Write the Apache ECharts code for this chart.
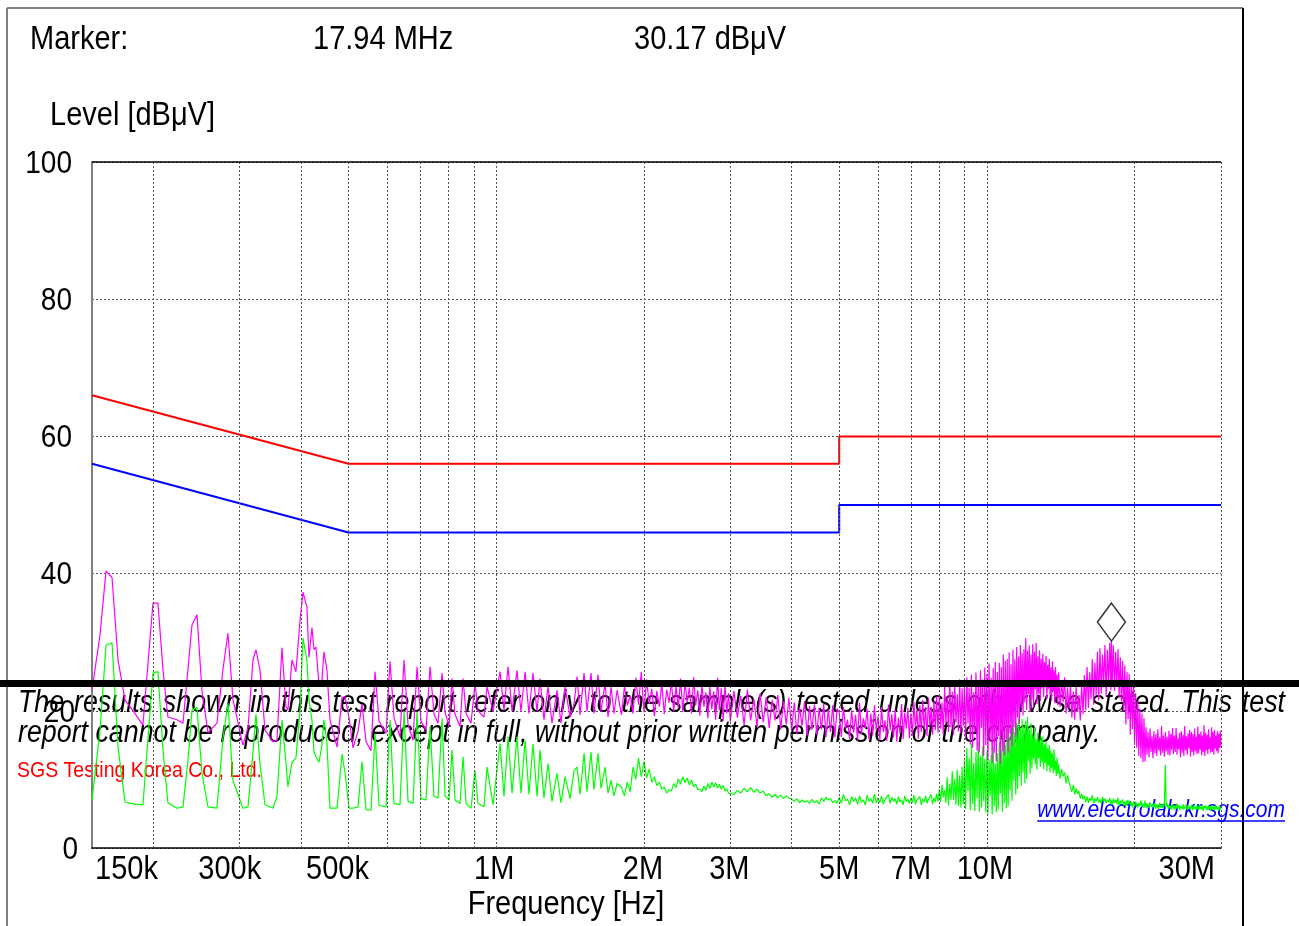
<!DOCTYPE html>
<html>
<head>
<meta charset="utf-8">
<script src="https://cdn.jsdelivr.net/npm/echarts@6/dist/echarts.min.js"></script>
<style>
  html, body { margin: 0; padding: 0; background: #fff; }
  #chart { width: 1299px; height: 926px; }
</style>
</head>
<body>
<div id="chart"></div>
<script>
// Conducted emission scan, 150 kHz - 30 MHz (frequencies in MHz, levels in dBuV)
const markerFreqMHz = 17.94;
const markerLevel = 30.17;

const qpLimitFreq  = [0.15, 0.5, 5, 5, 30];
const qpLimitLevel = [66, 56, 56, 60, 60];
const avLimitFreq  = [0.15, 0.5, 5, 5, 30];
const avLimitLevel = [56, 46, 46, 50, 50];

// 150 kHz - 1.8 MHz: individual harmonics
const freqLow = [
  0.1500, 0.1557, 0.1602, 0.1648, 0.1695, 0.1751, 0.1827, 0.1905, 0.1951, 0.1997,
  0.2044, 0.2093, 0.2142, 0.2235, 0.2299, 0.2353, 0.2398, 0.2455, 0.2513, 0.2585,
  0.2696, 0.2773, 0.2839, 0.2907, 0.3046, 0.3119, 0.3193, 0.3238, 0.3299, 0.3378,
  0.3507, 0.3573, 0.3658, 0.3727, 0.3762, 0.3834, 0.3906, 0.3980, 0.4037, 0.4113,
  0.4152, 0.4211, 0.4251, 0.4291, 0.4352, 0.4413, 0.4455, 0.4518, 0.4582, 0.4737,
  0.4850, 0.4918, 0.5012, 0.5106, 0.5227, 0.5326, 0.5427, 0.5556, 0.5662, 0.5769,
  0.5961, 0.6074, 0.6189, 0.6366, 0.6487, 0.6610, 0.6767, 0.6895, 0.7026, 0.7193,
  0.7329, 0.7468, 0.7610, 0.7754, 0.7864, 0.8013, 0.8126, 0.8241, 0.8437, 0.8556,
  0.8678, 0.8884, 0.9052, 0.9180, 0.9443, 0.9577, 0.9850, 1.018, 1.037, 1.057,
  1.077, 1.102, 1.123, 1.145, 1.166, 1.188, 1.211, 1.228, 1.251, 1.275,
  1.299, 1.330, 1.355, 1.381, 1.414, 1.441, 1.461, 1.482, 1.510, 1.531,
  1.560, 1.582, 1.612, 1.635, 1.666, 1.690, 1.714, 1.738, 1.763
];
const peakLow = [
  23.0, 31.0, 40.4, 39.4, 27.4, 21.6, 19.8, 17.9, 27.0, 35.7,
  35.7, 26.0, 19.1, 18.7, 18.2, 26.0, 32.5, 34.0, 23.0, 16.8,
  18.2, 26.0, 31.3, 21.6, 15.0, 17.5, 27.4, 28.9, 26.0, 17.2,
  15.5, 15.7, 29.2, 20.6, 20.1, 27.4, 25.7, 33.0, 37.3, 35.1,
  27.8, 32.1, 28.9, 29.3, 23.8, 24.5, 28.6, 26.0, 18.7, 14.7,
  22.0, 22.0, 19.0, 14.6, 17.0, 21.0, 15.5, 14.2, 25.7, 18.5,
  16.7, 27.2, 19.0, 16.2, 27.4, 18.0, 15.7, 26.4, 18.5, 17.2,
  26.4, 19.5, 18.2, 25.5, 19.8, 17.7, 24.7, 19.5, 17.7, 24.7,
  19.6, 18.2, 24.0, 20.0, 19.1, 23.5, 19.9, 25.7, 20.1, 26.4,
  19.9, 25.9, 19.9, 25.7, 19.6, 25.5, 19.9, 24.7, 18.7, 23.5,
  18.2, 23.0, 18.2, 23.5, 19.1, 21.0, 25.0, 19.4, 25.5, 19.9,
  25.5, 19.6, 25.3, 19.9, 24.0, 19.1, 23.5, 19.6, 23.0
];
const avgLow = [
  7.0, 17.0, 29.6, 29.9, 14.7, 6.7, 6.4, 6.3, 16.0, 25.5,
  25.7, 14.3, 6.6, 5.8, 6.0, 12.7, 20.1, 20.5, 10.9, 6.0,
  5.8, 16.0, 21.1, 9.8, 5.8, 6.0, 14.0, 19.5, 12.4, 6.3,
  5.8, 7.5, 18.7, 12.5, 8.9, 12.5, 13.1, 20.0, 30.6, 27.4,
  21.6, 18.7, 14.0, 13.3, 12.5, 15.0, 18.7, 15.3, 5.8, 5.8,
  13.7, 11.0, 5.8, 5.8, 6.0, 12.6, 5.6, 5.5, 16.7, 6.2,
  6.0, 18.7, 6.5, 6.3, 19.9, 6.8, 6.5, 19.9, 7.2, 7.0,
  17.7, 7.5, 7.3, 18.9, 7.6, 7.0, 14.3, 7.0, 6.5, 13.3,
  6.5, 5.8, 11.3, 6.5, 6.0, 11.8, 6.3, 15.2, 7.5, 16.2,
  8.0, 16.2, 8.0, 15.7, 7.8, 15.2, 7.5, 14.3, 7.3, 12.3,
  6.8, 10.9, 6.6, 10.4, 7.2, 11.3, 11.8, 7.8, 13.8, 8.2,
  14.0, 8.5, 13.8, 8.7, 11.8, 8.0, 9.9, 7.6, 9.4
];

// 1.8 MHz - 5 MHz
const freqMid = [
  1.800, 1.825, 1.850, 1.875, 1.900, 1.925, 1.950, 1.975,
  2.000, 2.025, 2.050, 2.075, 2.100, 2.125, 2.150, 2.175,
  2.200, 2.225, 2.250, 2.275, 2.300, 2.325, 2.350, 2.375,
  2.400, 2.425, 2.450, 2.475, 2.500, 2.525, 2.550, 2.575,
  2.600, 2.625, 2.650, 2.675, 2.700, 2.725, 2.750, 2.775,
  2.800, 2.825, 2.850, 2.875, 2.900, 2.925, 2.950, 2.975,
  3.000,
  3.05, 3.10, 3.15, 3.20, 3.25, 3.30, 3.35, 3.40, 3.45,
  3.50, 3.55, 3.60, 3.65, 3.70, 3.75, 3.80, 3.85, 3.90, 3.95,
  4.00, 4.05, 4.10, 4.15, 4.20, 4.25, 4.30, 4.35, 4.40, 4.45,
  4.50, 4.55, 4.60, 4.65, 4.70, 4.75, 4.80, 4.85, 4.90, 4.95
];
const peakMid = [
  19.4, 23.6, 20.8, 22.2, 19.6, 24.8, 20.9, 25.7,
  19.8, 24.6, 21.0, 23.2, 19.2, 22.9, 20.6, 24.0,
  19.5, 23.1, 21.2, 24.3, 19.9, 23.6, 20.4, 24.7,
  19.8, 24.2, 21.3, 23.4, 19.6, 24.9, 20.8, 23.0,
  19.3, 23.8, 20.6, 22.7, 18.9, 23.5, 20.2, 22.8,
  18.7, 24.8, 20.1, 23.3, 18.5, 23.9, 19.6, 22.6,
  18.4,
  22.9, 19.0, 22.2, 17.9, 23.1, 18.6, 21.7, 17.7, 22.5,
  18.3, 22.0, 17.5, 21.6, 18.6, 22.3, 17.3, 21.4, 18.0, 21.9,
  17.1, 21.2, 16.6, 20.5, 17.8, 21.4, 16.4, 20.7, 17.2, 20.9,
  16.5, 20.4, 17.3, 21.0, 16.2, 20.2, 16.9, 20.8, 16.1, 20.3
];
const avgMid = [
  8.9, 7.6, 9.6, 8.2, 11.8, 10.0, 13.1, 10.4,
  12.6, 10.2, 11.5, 9.6, 10.4, 9.1, 9.6, 8.6,
  8.9, 8.0, 8.5, 8.3, 9.4, 8.8, 10.1, 9.3,
  10.4, 9.5, 10.2, 9.2, 9.9, 8.9, 9.3, 8.5,
  8.6, 8.2, 9.0, 8.4, 9.4, 8.7, 9.6, 8.9,
  9.5, 8.7, 9.3, 8.6, 9.1, 8.3, 8.6, 8.0,
  8.1,
  7.8, 8.4, 8.0, 8.7, 8.2, 8.8, 8.1, 8.6, 8.0,
  8.3, 7.6, 7.9, 7.4, 7.8, 7.3, 7.7, 7.2, 7.6, 7.3,
  7.1, 6.8, 7.2, 6.6, 7.0, 6.7, 6.9, 6.5, 7.1, 6.6,
  6.9, 6.4, 7.3, 6.8, 7.4, 7.0, 7.2, 6.6, 6.9, 6.5
];

// 5 MHz - 30 MHz
const freqHigh = [
  5.00, 5.05, 5.10, 5.15, 5.20, 5.25, 5.30, 5.35, 5.40, 5.45,
  5.50, 5.55, 5.60, 5.65, 5.70, 5.75, 5.80, 5.85, 5.90, 5.95,
  6.00, 6.05, 6.10, 6.15, 6.20, 6.25, 6.30, 6.35, 6.40, 6.45,
  6.50, 6.55, 6.60, 6.65, 6.70, 6.75, 6.80, 6.85, 6.90, 6.95,
  7.00, 7.05, 7.10, 7.15, 7.20, 7.25, 7.30, 7.35, 7.40, 7.45,
  7.50, 7.55, 7.60, 7.65, 7.70, 7.75, 7.80, 7.85, 7.90, 7.95,
  8.00, 8.05, 8.10, 8.15, 8.20, 8.25, 8.30, 8.35, 8.40, 8.45,
  8.50, 8.55, 8.60, 8.65, 8.70, 8.75, 8.80, 8.85, 8.90, 8.95,
  9.00, 9.05, 9.10, 9.15, 9.20, 9.25, 9.30, 9.35, 9.40, 9.45,
  9.50, 9.55, 9.60, 9.65, 9.70, 9.75, 9.80, 9.85, 9.90, 9.95,
  10.00, 10.05, 10.10, 10.15, 10.20, 10.25, 10.30, 10.35, 10.40, 10.45,
  10.50, 10.55, 10.60, 10.65, 10.70, 10.75, 10.80, 10.85, 10.90, 10.95,
  11.00, 11.05, 11.10, 11.15, 11.20, 11.25, 11.30, 11.35, 11.40, 11.45,
  11.50, 11.55, 11.60, 11.65, 11.70, 11.75, 11.80, 11.85, 11.90, 11.95,
  12.00, 12.05, 12.10, 12.15, 12.20, 12.25, 12.30, 12.35, 12.40, 12.45,
  12.50, 12.55, 12.60, 12.65, 12.70, 12.75, 12.80, 12.85, 12.90, 12.95,
  13.00, 13.05, 13.10, 13.15, 13.20, 13.25, 13.30, 13.35, 13.40, 13.45,
  13.50, 13.55, 13.60, 13.65, 13.70, 13.75, 13.80, 13.85, 13.90, 13.95,
  14.0, 14.1, 14.2, 14.3, 14.4, 14.5, 14.6, 14.7, 14.8, 14.9,
  15.0, 15.1, 15.2, 15.3, 15.4, 15.5, 15.6, 15.7, 15.8, 15.9,
  16.0, 16.1, 16.2, 16.3, 16.4, 16.5, 16.6, 16.7, 16.8, 16.9,
  17.0, 17.1, 17.2, 17.3, 17.4, 17.5, 17.6, 17.7, 17.8, 17.9,
  17.94,
  18.0, 18.1, 18.2, 18.3, 18.4, 18.5, 18.6, 18.7, 18.8, 18.9,
  19.0, 19.1, 19.2, 19.3, 19.4, 19.5, 19.6, 19.7, 19.8, 19.9,
  20.0, 20.1, 20.2, 20.3, 20.4, 20.5, 20.6, 20.7, 20.8, 20.9,
  21.0, 21.1, 21.2, 21.3, 21.4, 21.5, 21.6, 21.7, 21.8, 21.9,
  22.0, 22.1, 22.2, 22.3, 22.4, 22.5, 22.6, 22.7, 22.8, 22.9,
  23.0, 23.1, 23.2, 23.3, 23.4, 23.5, 23.6, 23.7, 23.8, 23.9,
  24.0, 24.1, 24.2, 24.3, 24.4, 24.5, 24.6, 24.7, 24.8, 24.9,
  25.0, 25.1, 25.2, 25.3, 25.4, 25.5, 25.6, 25.7, 25.8, 25.9,
  26.0, 26.1, 26.2, 26.3, 26.4, 26.5, 26.6, 26.7, 26.8, 26.9,
  27.0, 27.1, 27.2, 27.3, 27.4, 27.5, 27.6, 27.7, 27.8, 27.9,
  28.0, 28.1, 28.2, 28.3, 28.4, 28.5, 28.6, 28.7, 28.8, 28.9,
  29.0, 29.1, 29.2, 29.3, 29.4, 29.5, 29.6, 29.7, 29.8, 29.9,
  30.0
];
const peakHigh = [
  19.8, 16.2, 20.6, 17.4, 18.7, 15.9, 20.1, 16.8, 19.4, 15.7,
  21.2, 16.6, 18.9, 17.5, 20.3, 15.8, 19.6, 16.4, 20.8, 17.1,
  19.2, 15.8, 20.5, 16.9, 18.6, 15.6, 20.9, 17.2, 19.5, 16.1,
  20.2, 15.5, 19.0, 16.7, 21.0, 15.9, 19.7, 17.4, 20.4, 16.0,
  19.6, 16.4, 21.3, 17.6, 20.1, 15.9, 20.8, 16.9, 21.6, 17.3,
  20.4, 16.3, 21.9, 17.7, 20.6, 16.5, 21.4, 17.2, 22.1, 16.8,
  22.3, 17.4, 21.2, 16.6, 23.5, 18.1, 22.0, 16.9, 24.4, 17.6,
  22.8, 16.5, 23.9, 18.3, 22.4, 17.0, 24.6, 16.7, 23.3, 17.8,
  24.1, 16.0, 24.9, 18.2, 23.4, 15.1, 25.3, 14.6, 22.7, 16.9,
  25.6, 14.2, 24.0, 13.9, 25.9, 17.5, 24.6, 13.4, 26.3, 15.0,
  25.4, 12.8, 26.9, 15.6, 24.8, 12.4, 26.2, 13.9, 27.1, 12.6,
  25.7, 16.3, 27.0, 12.3, 26.4, 14.1, 28.2, 13.5, 27.3, 15.8,
  27.6, 13.9, 28.5, 16.7, 26.8, 14.8, 28.9, 17.6, 27.5, 16.2,
  29.3, 19.0, 27.9, 18.1, 29.6, 20.4, 28.4, 19.3, 29.0, 21.2,
  30.6, 20.1, 28.8, 22.4, 29.5, 19.8, 28.2, 21.6, 29.7, 20.5,
  28.6, 23.1, 29.9, 21.0, 27.9, 22.5, 28.8, 21.4, 27.6, 23.3,
  28.3, 22.0, 27.1, 23.6, 28.0, 21.7, 26.7, 23.2, 27.6, 22.3,
  26.3, 21.5, 27.2, 22.8, 25.9, 21.1, 26.4, 22.0, 25.3, 20.8,
  25.6, 20.6, 24.4, 21.3, 24.9, 19.6, 23.4, 20.3, 23.8, 19.0,
  22.8, 18.7, 23.5, 19.8, 22.3, 18.6, 23.9, 19.5, 25.2, 20.1,
  26.4, 20.4, 25.6, 21.7, 27.5, 20.9, 27.0, 22.3, 28.6, 21.5,
  29.1, 22.5, 28.2, 23.8, 29.6, 22.1, 28.9, 24.0, 29.9, 23.0,
  30.17,
  23.8, 29.5, 22.9, 28.6, 23.5, 29.0, 22.0, 27.8, 21.4, 27.3,
  19.9, 26.6, 18.0, 25.7, 18.8, 25.4, 16.5, 24.4, 17.3, 24.0,
  15.0, 22.6, 14.6, 21.4, 13.4, 20.3, 13.1, 19.6, 12.5, 18.9,
  12.6, 17.6, 13.6, 16.9, 13.2, 17.4, 14.0, 16.3, 13.1, 17.0,
  13.8, 16.6, 13.4, 17.3, 14.2, 16.1, 13.5, 17.8, 13.9, 16.4,
  13.3, 16.9, 14.1, 16.2, 13.6, 17.1, 13.5, 16.6, 14.3, 17.5,
  13.7, 16.4, 14.0, 17.5, 13.6, 16.0, 14.4, 16.8, 13.2, 17.0,
  13.9, 16.5, 13.4, 17.8, 14.2, 16.3, 13.6, 16.7, 14.5, 17.2,
  13.3, 16.9, 14.0, 16.6, 13.5, 17.4, 14.1, 16.2, 13.7, 17.7,
  13.8, 16.6, 14.3, 17.0, 13.5, 16.4, 14.0, 17.9, 13.4, 16.8,
  14.2, 16.5, 13.7, 17.3, 14.4, 16.1, 13.9, 17.6, 14.0, 16.9,
  13.6, 17.2, 14.5, 16.4, 14.1, 17.0, 13.8, 16.7, 14.6, 17.1,
  14.6
];
const avgHigh = [
  7.4, 6.5, 7.8, 6.9, 7.1, 6.3, 7.5, 6.8, 7.3, 6.4,
  7.6, 6.7, 7.0, 6.3, 7.7, 6.8, 7.2, 6.5, 7.9, 6.6,
  7.3, 6.6, 7.6, 6.4, 7.1, 6.9, 7.8, 6.5, 7.4, 6.8,
  7.2, 6.4, 7.5, 6.7, 7.0, 6.3, 7.6, 6.8, 7.1, 6.5,
  7.3, 6.6, 7.7, 6.4, 7.0, 6.8, 7.5, 6.3, 7.2, 6.7,
  7.6, 6.5, 7.1, 6.9, 7.8, 6.4, 7.3, 6.7, 7.9, 6.8,
  8.6, 6.7, 9.2, 7.4, 8.5, 6.6, 10.3, 6.2, 9.4, 7.0,
  11.2, 7.0, 10.1, 6.3, 11.4, 6.1, 10.6, 5.9, 11.8, 6.4,
  12.8, 5.7, 14.6, 8.3, 13.1, 5.5, 15.2, 6.4, 12.4, 5.4,
  14.0, 7.2, 15.6, 5.3, 13.4, 5.9, 14.8, 6.8, 13.0, 5.2,
  14.1, 5.0, 12.9, 7.6, 13.6, 4.9, 14.9, 6.1, 12.3, 5.2,
  13.8, 5.6, 15.4, 7.9, 14.2, 5.3, 16.4, 6.5, 15.1, 5.8,
  17.6, 6.1, 16.2, 8.4, 17.9, 6.9, 18.7, 9.8, 16.9, 7.8,
  18.2, 8.6, 19.0, 10.5, 17.5, 9.1, 18.8, 11.0, 17.8, 9.4,
  18.5, 10.1, 19.1, 12.6, 17.3, 10.8, 18.2, 11.6, 16.4, 13.0,
  17.6, 12.2, 15.9, 11.4, 16.8, 13.1, 15.6, 11.8, 16.2, 12.5,
  16.3, 11.5, 15.1, 12.4, 15.6, 11.2, 14.6, 12.0, 15.0, 11.0,
  14.2, 11.7, 13.8, 10.9, 14.4, 11.3, 12.7, 10.5, 13.2, 10.8,
  12.2, 10.1, 11.5, 10.4, 11.0, 9.4, 10.6, 9.6, 9.5, 8.2,
  9.2, 7.8, 8.7, 7.9, 8.3, 7.2, 7.9, 7.1, 7.6, 6.7,
  7.5, 6.6, 7.3, 6.9, 7.7, 6.5, 7.2, 6.8, 7.4, 6.6,
  7.1, 6.4, 7.5, 6.8, 7.2, 6.5, 7.0, 6.7, 7.3, 6.4,
  6.9,
  6.3, 7.2, 6.6, 7.0, 6.4, 7.3, 6.1, 6.9, 6.5, 7.1,
  6.2, 6.8, 6.0, 7.0, 6.4, 6.9, 6.2, 6.7, 5.9, 6.8,
  6.1, 6.8, 6.3, 5.9, 6.6, 6.1, 6.9, 6.0, 6.5, 5.8,
  6.9, 5.8, 6.5, 6.2, 5.9, 6.7, 6.0, 5.8, 6.4, 5.9,
  6.6, 5.7, 6.4, 6.0, 5.7, 6.6, 5.9, 6.3, 5.8, 6.5,
  6.2, 12.1, 6.0, 6.5, 5.7, 6.3, 5.8, 6.1, 5.6, 6.4,
  6.0, 5.6, 6.2, 5.7, 6.5, 5.8, 6.3, 5.5, 6.1, 5.9,
  5.7, 6.4, 5.6, 6.0, 5.8, 6.3, 5.5, 6.2, 5.7, 6.0,
  5.6, 6.3, 5.9, 5.5, 6.2, 5.7, 6.0, 5.6, 6.3, 5.8,
  5.5, 6.2, 5.7, 6.0, 5.6, 6.3, 5.4, 6.1, 5.8, 6.2,
  5.6, 6.0, 5.5, 6.2, 5.7, 6.1, 5.4, 5.9, 6.3, 5.6,
  6.0, 5.5, 6.2, 5.7, 6.1, 5.6, 5.9, 5.4, 6.2, 5.7,
  5.8
];

const gridFreqs = [0.2, 0.3, 0.4, 0.5, 0.6, 0.7, 0.8, 0.9,
                   1, 2, 3, 4, 5, 6, 7, 8, 9, 10, 20, 30];
const xTickValues = [0.15, 0.3, 0.5, 1, 2, 3, 5, 7, 10, 30];
const xTickLabels = ['150k', '300k', '500k', '1M', '2M', '3M', '5M', '7M', '10M', '30M'];
const yTickValues = [0, 20, 40, 60, 80, 100];

const disclaimerLine1 = 'The results shown in this test report refer only to the sample(s) tested unless otherwise stated. This test';
const disclaimerLine2 = 'report cannot be reproduced, except in full, without prior written permission of the company.';
const companyName = 'SGS Testing Korea Co., Ltd.';
const siteAddress = 'www.electrolab.kr.sgs.com';

// ---- helpers ----
const zip = (xs, ys) => xs.map((x, i) => [x, ys[i]]);
const peakData = zip(freqLow, peakLow).concat(zip(freqMid, peakMid), zip(freqHigh, peakHigh));
const avgData  = zip(freqLow, avgLow).concat(zip(freqMid, avgMid), zip(freqHigh, avgHigh));

const FONT = '"Liberation Sans", Arial, Helvetica, sans-serif';
const STRETCH = 1.15;
const GRID_LINE = { color: '#555', type: [2, 2], width: 1 };

const chart = echarts.init(document.getElementById('chart'), null, { renderer: 'canvas' });

chart.setOption({
  animation: false,
  backgroundColor: '#fff',
  grid: { left: 92, right: 78, top: 162, bottom: 78, containLabel: false, outerBoundsMode: 'none' },
  xAxis: {
    type: 'log', logBase: 10, min: 0.15, max: 30,
    axisLine: { show: true, lineStyle: { color: '#000', width: 1.5 } },
    axisTick: { show: false },
    axisLabel: { show: false },
    splitLine: { show: false },
    minorSplitLine: { show: false }
  },
  yAxis: {
    type: 'value', min: 0, max: 100, interval: 20,
    axisLine: { show: true, lineStyle: { color: '#808080', width: 2 } },
    axisTick: { show: false },
    axisLabel: { show: false },
    splitLine: { show: true, lineStyle: GRID_LINE }
  },
  series: [
    {
      name: 'grid', type: 'line', data: [[0.15, 0]], z: 1, silent: true,
      showSymbol: false, lineStyle: { width: 0, opacity: 0 },
      markLine: {
        silent: true, symbol: ['none', 'none'], label: { show: false }, animation: false,
        lineStyle: GRID_LINE,
        data: gridFreqs.map(f => ({ xAxis: f }))
          .concat([{ yAxis: 100, lineStyle: { type: 'solid', color: '#000', width: 1.5 } }])
      }
    },
    {
      name: 'QP limit', type: 'line', data: zip(qpLimitFreq, qpLimitLevel), z: 2,
      showSymbol: false, silent: true, lineStyle: { color: '#ff0000', width: 2 }
    },
    {
      name: 'AV limit', type: 'line', data: zip(avLimitFreq, avLimitLevel), z: 2,
      showSymbol: false, silent: true, lineStyle: { color: '#0000ff', width: 2 }
    },
    {
      name: 'Average', type: 'line', data: avgData, z: 3, sampling: false,
      showSymbol: false, silent: true, lineStyle: { color: '#00ff00', width: 1.2 }
    },
    {
      name: 'Peak', type: 'line', data: peakData, z: 4, sampling: false,
      showSymbol: false, silent: true, lineStyle: { color: '#ff00ff', width: 1.2 }
    },
    {
      name: 'Marker', type: 'scatter', data: [[markerFreqMHz, markerLevel]], z: 6, silent: true,
      symbol: 'diamond', symbolSize: [28, 38], symbolOffset: [0, -19],
      itemStyle: { color: '#fff', borderColor: '#000', borderWidth: 1.5 }
    }
  ]
});

// ---- text and frame overlay ----
const px = v => chart.convertToPixel({ xAxisIndex: 0 }, v);
const py = v => chart.convertToPixel({ yAxisIndex: 0 }, v);

function text(x, y, str, font, align, fill, z) {
  return {
    type: 'text', x: x, y: y, scaleY: STRETCH, z: z || 0, silent: true,
    style: {
      text: str, x: 0, y: 0, font: font, fill: fill || '#000',
      align: align, textAlign: align, verticalAlign: 'middle', textVerticalAlign: 'middle'
    }
  };
}

const measure = document.createElement('canvas').getContext('2d');
function widthOf(str, font) { measure.font = font; return measure.measureText(str).width; }

const els = [];

// outer frame
els.push({ type: 'line', silent: true, shape: { x1: 7, y1: 8, x2: 1243, y2: 8 }, style: { stroke: '#808080', lineWidth: 2 } });
els.push({ type: 'line', silent: true, shape: { x1: 7, y1: 8, x2: 7, y2: 926 }, style: { stroke: '#808080', lineWidth: 2 } });
els.push({ type: 'line', silent: true, shape: { x1: 1243, y1: 8, x2: 1243, y2: 926 }, style: { stroke: '#000', lineWidth: 2 } });

// header
const headFont = '29px ' + FONT;
els.push(text(30, 40, 'Marker:', headFont, 'left'));
els.push(text(313, 40, markerFreqMHz.toFixed(2) + ' MHz', headFont, 'left'));
els.push(text(634, 40, markerLevel.toFixed(2) + ' dBμV', headFont, 'left'));
els.push(text(50, 116, 'Level [dBμV]', headFont, 'left'));

// y tick labels
const yLabelRight = { 0: 78, 20: 75 };
yTickValues.forEach(v => {
  els.push(text(yLabelRight[v] || 72, py(v) + 2, String(v), '28px ' + FONT, 'right'));
});

// x tick labels
const xLabelShift = [3, -10, -11, -2, -1, -1, 0, 0, -2, -6];
xTickValues.forEach((v, i) => {
  const align = i === 0 ? 'left' : (i === xTickValues.length - 1 ? 'right' : 'center');
  els.push(text(px(v) + xLabelShift[i], 870, xTickLabels[i], '29px ' + FONT, align));
});
els.push(text(566, 905, 'Frequency [Hz]', '29px ' + FONT, 'center'));

// disclaimer block
const noteFont = 'italic 26.8px ' + FONT;
const words = disclaimerLine1.split(' ');
const wordWidths = words.map(w => widthOf(w, noteFont));
const lineLeft = 18, lineRight = 1285;
const gap = (lineRight - lineLeft - wordWidths.reduce((a, b) => a + b, 0)) / (words.length - 1);
let cursor = lineLeft;
words.forEach((w, i) => {
  els.push(text(cursor, 703, w, noteFont, 'left'));
  cursor += wordWidths[i] + gap;
});
els.push(text(lineLeft, 733, disclaimerLine2, noteFont, 'left'));
els.push(text(17, 771, companyName, '19.5px ' + FONT, 'left', '#ff0000'));

const linkFont = 'italic 21px ' + FONT;
const linkW = widthOf(siteAddress, linkFont);
els.push(text(1285, 810, siteAddress, linkFont, 'right', '#0000ff'));
els.push({ type: 'line', silent: true, shape: { x1: 1285 - linkW, y1: 821, x2: 1285, y2: 821 },
           style: { stroke: '#0000ff', lineWidth: 1.5 } });

// separator bar across the page
els.push({ type: 'rect', silent: true, z: 10, shape: { x: 0, y: 680, width: 1299, height: 7 }, style: { fill: '#000' } });

chart.setOption({ graphic: { elements: els } });
</script>
</body>
</html>
